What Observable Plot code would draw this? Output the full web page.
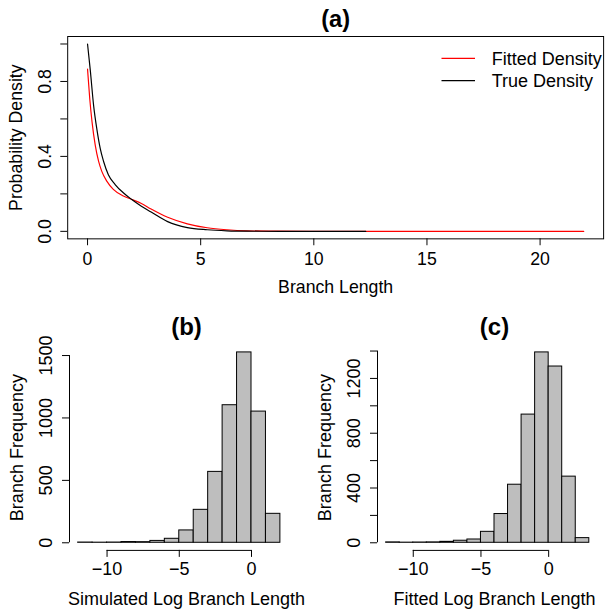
<!DOCTYPE html>
<html><head><meta charset="utf-8">
<script src="https://cdn.jsdelivr.net/npm/d3@7"></script>
<script src="https://cdn.jsdelivr.net/npm/@observablehq/plot@0.6"></script>
<style>
html,body{margin:0;padding:0;background:#fff;}
#fig{position:relative;width:605px;height:610px;overflow:hidden;background:#fff;font-family:"Liberation Sans",Arial,Helvetica,sans-serif;}
#fig > *{position:absolute;}
</style></head><body><div id="fig"></div>
<script>
// ---- Panel (a): densities ----
const fittedX = [0, 0.1, 0.2, 0.34, 0.49, 0.63, 0.85, 1.14, 1.58, 1.94, 2.38, 2.81, 3.54, 4.41, 5.29, 6.16, 7.03, 8.3, 10, 13, 16, 19, 21.93];
const fittedY = [0.866, 0.705, 0.583, 0.46, 0.373, 0.32, 0.268, 0.224, 0.189, 0.171, 0.149, 0.119, 0.075, 0.04, 0.019, 0.0085, 0.003, 0.001, 0.0003, 0.0001, 0, 0, 0];
const trueX = [0, 0.12, 0.27, 0.41, 0.56, 0.71, 0.92, 1.22, 1.58, 1.94, 2.38, 2.81, 3.54, 4.41, 5.29, 6.16, 7.03, 8.5, 10, 12.3];
const trueY = [1.0, 0.862, 0.67, 0.547, 0.443, 0.373, 0.302, 0.25, 0.206, 0.171, 0.134, 0.103, 0.052, 0.02, 0.0085, 0.003, 0.001, 0.0003, 0.0001, 0];
const seriesNames = ["Fitted Density", "True Density"];
const seriesColors = ["#ff0000", "#000000"];
const topXTicks = [0, 5, 10, 15, 20];
const topYTicks = [0, 0.2, 0.4, 0.6, 0.8, 1.0];
const topYLabels = [0, 0.4, 0.8];

// ---- Panel (b): simulated log branch lengths ----
const binEdgesB = [-12, -11, -10, -9, -8, -7, -6, -5, -4, -3, -2, -1, 0, 1, 2, 3];
const countsB = [2, 1, 2, 6, 5, 15, 32, 99, 264, 568, 1102, 1525, 1051, 232, 0];
const bYTicks = [0, 500, 1000, 1500];
const bYLabels = [0, 500, 1000, 1500];

// ---- Panel (c): fitted log branch lengths ----
const binEdgesC = [-12, -11, -10, -9, -8, -7, -6, -5, -4, -3, -2, -1, 0, 1, 2, 3, 4];
const countsC = [3, 1, 2, 3, 7, 15, 24, 80, 210, 424, 936, 1390, 1287, 483, 34, 0];
const cYTicks = [0, 200, 400, 600, 800, 1000, 1200, 1400];
const cYLabels = [0, 400, 800, 1200];

const histXTicks = [-10, -5, 0];
const titles = ["(a)", "(b)", "(c)"];
const xTitles = ["Branch Length", "Simulated Log Branch Length", "Fitted Log Branch Length"];
const yTitles = ["Probability Density", "Branch Frequency", "Branch Frequency"];

const FONT = '"Liberation Sans", Arial, Helvetica, sans-serif';
const ext = (lo, hi) => { const d = (hi - lo) * 0.04; return [lo - d, hi + d]; };
const fmtMinus = d => d < 0 ? "\u2212" + Math.abs(d) : String(d);
const fig = document.getElementById("fig");

function annotations(title, xTitle, yTitle) {
  return [
    Plot.text([title], {text: d => d, frameAnchor: "top", dy: -17.5, fontWeight: "bold", fontSize: 24, textAnchor: "middle", lineAnchor: "middle", fill: "#000"}),
    Plot.text([xTitle], {text: d => d, frameAnchor: "bottom", dy: 49, fontSize: 18, textAnchor: "middle", lineAnchor: "middle", fill: "#000"}),
    Plot.text([yTitle], {text: d => d, frameAnchor: "left", dx: -52, rotate: -90, fontSize: 18, textAnchor: "middle", lineAnchor: "middle", fill: "#000"})
  ];
}

// Top panel
const fitted = fittedX.map((x, i) => ({x, y: fittedY[i]}));
const truth = trueX.map((x, i) => ({x, y: trueY[i]}));
const topChart = Plot.plot({
  width: 615, height: 305,
  marginLeft: 68.3, marginRight: 1.9, marginTop: 36.6, marginBottom: 62.7,
  style: {fontFamily: FONT, fontSize: "18px", background: "transparent", color: "#000", overflow: "visible"},
  x: {domain: ext(0, d3.max(fittedX)), label: null},
  y: {domain: ext(0, d3.max(trueY)), label: null},
  marks: [
    Plot.line(fitted, {x: "x", y: "y", stroke: seriesColors[0], strokeWidth: 1.2, curve: "monotone-x"}),
    Plot.line(truth, {x: "x", y: "y", stroke: seriesColors[1], strokeWidth: 1.2, curve: "monotone-x"}),
    Plot.frame({stroke: "#000", strokeWidth: 1}),
    Plot.axisX({ticks: topXTicks, tickSize: 7, tickFormat: () => "", label: null}),
    Plot.text(topXTicks, {x: d => d, text: d => String(d), frameAnchor: "bottom", dy: 21, fontSize: 18, textAnchor: "middle", lineAnchor: "middle", fill: "#000"}),
    Plot.axisY({ticks: topYTicks, tickSize: 7, tickFormat: () => "", label: null}),
    Plot.text(topYLabels, {y: d => d, text: d => d.toFixed(1), frameAnchor: "left", dx: -23, rotate: -90, fontSize: 18, textAnchor: "middle", lineAnchor: "middle", fill: "#000"}),
    ...annotations(titles[0], xTitles[0], yTitles[0])
  ]
});
topChart.style.left = "0px"; topChart.style.top = "0px";
fig.appendChild(topChart);

function histogram(edges, counts, yTicks, yLabels, idx, left) {
  const bars = counts.map((c, i) => ({x1: edges[i], x2: edges[i + 1], y: c}));
  const xd = ext(edges[0], edges[edges.length - 1]);
  const yd = ext(0, d3.max(counts));
  const chart = Plot.plot({
    width: 307.5, height: 305,
    marginLeft: 69, marginRight: 4.5, marginTop: 39.3, marginBottom: 60.1,
    style: {fontFamily: FONT, fontSize: "18px", background: "transparent", color: "#000", overflow: "visible"},
    x: {domain: xd, label: null},
    y: {domain: yd, label: null},
    marks: [
      Plot.rectY(bars, {x1: "x1", x2: "x2", y1: () => 0, y2: "y", fill: "#bebebe", stroke: "#000", strokeWidth: 1}),
      Plot.ruleY([yd[0]], {y: d => d, x1: () => histXTicks[0], x2: () => histXTicks[histXTicks.length - 1], stroke: "#000"}),
      Plot.axisX({ticks: histXTicks, tickSize: 7, tickFormat: () => "", label: null}),
      Plot.text(histXTicks, {x: d => d, text: fmtMinus, frameAnchor: "bottom", dy: 19, fontSize: 18, textAnchor: "middle", lineAnchor: "middle", fill: "#000"}),
      Plot.ruleX([xd[0]], {x: d => d, y1: () => yTicks[0], y2: () => yTicks[yTicks.length - 1], stroke: "#000"}),
      Plot.axisY({ticks: yTicks, tickSize: 7, tickFormat: () => "", label: null}),
      Plot.text(yLabels, {y: d => d, text: d => String(d), frameAnchor: "left", dx: -23, rotate: -90, fontSize: 18, textAnchor: "middle", lineAnchor: "middle", fill: "#000"}),
      ...annotations(titles[idx], xTitles[idx], yTitles[idx])
    ]
  });
  chart.style.left = left + "px"; chart.style.top = "305px";
  fig.appendChild(chart);
}
histogram(binEdgesB, countsB, bYTicks, bYLabels, 1, 0);
histogram(binEdgesC, countsC, cYTicks, cYLabels, 2, 307.5);

// Legend for panel (a)
const ns = "http://www.w3.org/2000/svg";
const leg = document.createElementNS(ns, "svg");
leg.setAttribute("width", 170); leg.setAttribute("height", 50);
leg.style.left = "438px"; leg.style.top = "46px";
leg.style.fontFamily = FONT; leg.style.fontSize = "18px";
seriesNames.forEach((name, i) => {
  const yy = 12.3 + i * 22.4;
  const ln = document.createElementNS(ns, "line");
  ln.setAttribute("x1", 3.5); ln.setAttribute("x2", 37);
  ln.setAttribute("y1", yy); ln.setAttribute("y2", yy);
  ln.setAttribute("stroke", seriesColors[i]); ln.setAttribute("stroke-width", 1.2);
  leg.appendChild(ln);
  const tx = document.createElementNS(ns, "text");
  tx.setAttribute("x", 53.7); tx.setAttribute("y", yy); tx.setAttribute("dy", "0.35em");
  tx.setAttribute("fill", "#000");
  tx.textContent = name;
  leg.appendChild(tx);
});
fig.appendChild(leg);
</script></body></html>
